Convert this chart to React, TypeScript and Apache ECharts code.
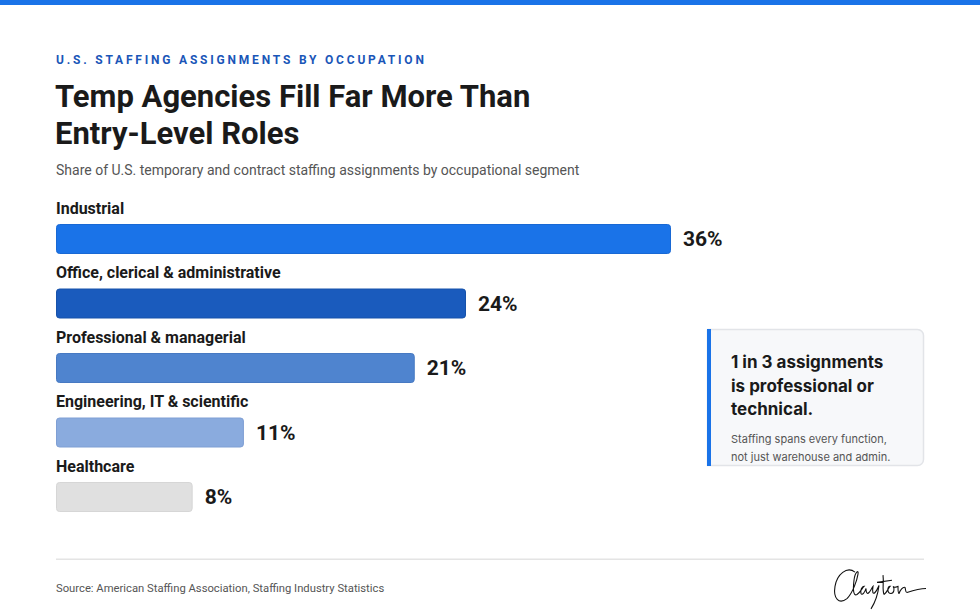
import React, { useEffect, useRef } from "react";
import * as echarts from "echarts";

// Occupational segments and their share of staffing assignments (%)
const categories = [
  "Industrial",
  "Office, clerical & administrative",
  "Professional & managerial",
  "Engineering, IT & scientific",
  "Healthcare",
];
const shares = [36, 24, 21, 11, 8];
const barColors = ["#1a73e8", "#1a5bbd", "#4f84cf", "#8aabde", "#e0e0e0"];
const barBorders = ["#1868d4", "#1752aa", "#4779c2", "#7f9fd4", "#d6d6d6"];

const eyebrow = "U.S. STAFFING ASSIGNMENTS BY OCCUPATION";
const titleLines = ["Temp Agencies Fill Far More Than", "Entry-Level Roles"];
const subtitle =
  "Share of U.S. temporary and contract staffing assignments by occupational segment";
const calloutHead = ["1 in 3 assignments", "is professional or", "technical."];
const calloutBody = ["Staffing spans every function,", "not just warehouse and admin."];
const source = "Source: American Staffing Association, Staffing Industry Statistics";

// Hand-drawn "Clayton" signature mark
const signaturePath =
  "M 24 6 C 16 0 6 8 4 20 C 2 32 8 38 16 32 " +
  "C 22 26 26 14 27 8 C 28 3 24 6 23 14 C 22 22 22 30 26 28 " +
  "C 29 26 31 22 33 20 C 31 20 29 24 30 27 C 31 29 34 26 35 22 " +
  "C 35 26 36 28 38 26 C 40 24 41 21 42 20 " +
  "C 41 26 42 28 44 26 C 46 24 47 21 48 19 C 47 27 44 36 40 42 " +
  "M 52 9 C 53 16 51 23 53 28 M 46 16 L 61 14 " +
  "M 53 28 C 56 26 57 22 59 20 C 56 20 56 27 60 27 C 63 27 64 22 62 20 " +
  "C 64 22 66 20 67 20 C 67 24 67 27 68 27 C 69 24 72 20 74 21 C 75 23 74 26 76 26 " +
  "C 82 24 88 22 95 22";

echarts.graphic.registerShape(
  "signature",
  (echarts.graphic as any).extendPath(signaturePath, {})
);

const FONT = "Roboto";

export default function App() {
  const ref = useRef<HTMLDivElement>(null);

  useEffect(() => {
    document.body.style.margin = "0";
    if (!ref.current) return;
    const host = ref.current;
    const chart = echarts.init(host, null, { renderer: "svg" });

    const rowGap = 64.5;
    const gridTop = 239 - rowGap / 2;

    // the eyebrow line is tracked out wider than normal text
    const trackEyebrow = () => {
      host.querySelectorAll("text").forEach((el) => {
        if ((el.textContent || "").trim() === eyebrow) {
          (el as SVGTextElement).style.letterSpacing = "2.8px";
        }
      });
    };
    chart.on("finished", trackEyebrow);

    chart.setOption({
      animation: false,
      backgroundColor: "#ffffff",
      grid: { left: 56, top: gridTop, width: 615, height: rowGap * categories.length },
      xAxis: { type: "value", min: 0, max: 36, show: false },
      yAxis: {
        type: "category",
        inverse: true,
        data: categories,
        axisLine: { show: false },
        axisTick: { show: false },
        splitLine: { show: false },
        axisLabel: { show: false },
      },
      series: [
        {
          type: "bar",
          barWidth: 30,
          data: shares.map((v, i) => ({
            value: v,
            itemStyle: {
              color: barColors[i],
              borderColor: barBorders[i],
              borderWidth: 1,
              borderRadius: 3,
            },
          })),
          label: {
            show: true,
            position: "right",
            distance: 12,
            formatter: "{c}%",
            color: "#1a1a1a",
            fontFamily: FONT,
            fontSize: 21,
            fontWeight: 700,
          },
        },
        {
          // carries the category name above each bar
          type: "bar",
          barWidth: 30,
          barGap: "-100%",
          silent: true,
          data: shares,
          itemStyle: { color: "rgba(0,0,0,0)" },
          label: {
            show: true,
            position: [0, -16],
            align: "left",
            verticalAlign: "middle",
            formatter: "{b}",
            color: "#1a1a1a",
            fontFamily: FONT,
            fontSize: 16,
            fontWeight: 700,
          },
        },
      ],
      graphic: [
        { type: "rect", shape: { x: 0, y: 0, width: 980, height: 5 }, style: { fill: "#1a73e8" } },
        {
          type: "text",
          x: 56,
          y: 60,
          style: {
            text: eyebrow,
            fill: "#1a56b8",
            fontFamily: FONT,
            fontWeight: "bold",
            fontSize: 12,
            verticalAlign: "middle",
          },
        },
        ...titleLines.map((t, i) => ({
          type: "text",
          x: 55,
          y: 96 + i * 37,
          style: {
            text: t,
            fill: "#1a1a1a",
            fontFamily: FONT,
            fontWeight: "bold",
            fontSize: 31,
            verticalAlign: "middle",
          },
        })),
        {
          type: "text",
          x: 56,
          y: 170,
          style: { text: subtitle, fill: "#555555", fontFamily: FONT, fontSize: 14, verticalAlign: "middle" },
        },
        // callout card
        {
          type: "rect",
          shape: { x: 707.5, y: 329.5, width: 216, height: 136, r: [0, 6, 6, 0] },
          style: { fill: "#f7f8fa", stroke: "#e2e4e8", lineWidth: 1.5 },
        },
        { type: "rect", shape: { x: 707, y: 329, width: 4, height: 137 }, style: { fill: "#1a73e8" } },
        ...calloutHead.map((t, i) => ({
          type: "text",
          x: 731,
          y: 362 + i * 23.5,
          style: {
            text: t,
            fill: "#1a1a1a",
            fontFamily: "Inter",
            fontWeight: "bold",
            fontSize: 17,
            verticalAlign: "middle",
          },
        })),
        ...calloutBody.map((t, i) => ({
          type: "text",
          x: 731,
          y: 439 + i * 17.5,
          style: { text: t, fill: "#555555", fontFamily: "Inter", fontSize: 11, verticalAlign: "middle" },
        })),
        // footer
        {
          type: "rect",
          shape: { x: 56, y: 558.5, width: 868, height: 1.5 },
          style: { fill: "#e4e4e4" },
        },
        {
          type: "text",
          x: 56,
          y: 588,
          style: { text: source, fill: "#555555", fontFamily: FONT, fontSize: 11.25, verticalAlign: "middle" },
        },
        {
          type: "signature",
          x: 831,
          y: 566,
          scaleX: 1,
          scaleY: 1.02,
          style: { stroke: "#111111", fill: "none", lineWidth: 1.1 },
        },
      ],
    });
    trackEyebrow();

    return () => chart.dispose();
  }, []);

  return <div ref={ref} style={{ width: 980, height: 616 }} />;
}
